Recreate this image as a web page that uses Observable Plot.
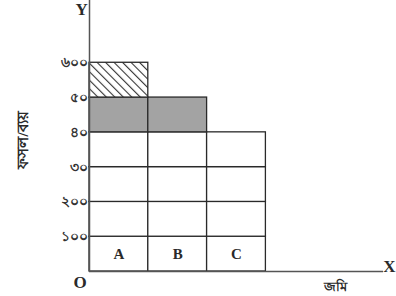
<!DOCTYPE html>
<html><head><meta charset="utf-8">
<script src="https://cdn.jsdelivr.net/npm/d3@7"></script>
<script src="https://cdn.jsdelivr.net/npm/@observablehq/plot@0.6"></script>
<style>
html,body{margin:0;padding:0;background:#fff;}
#chart{width:396px;height:296px;overflow:hidden;}
</style>
</head><body><div id="chart"></div>
<script>
const lands = ["A", "B", "C"];
const produce = [6, 5, 4];
const yTicks = [1, 2, 3, 4, 5, 6];
const yTickLabels = ["১০০", "২০০", "৩০", "৪০", "৫০", "৬০০"];
const yLabel = "ফসল/ব্যয়";
const xLabel = "জমি";

const cells = lands.flatMap((land, i) => d3.range(produce[i]).map(j => ({
  land, i, j,
  kind: j >= produce[1] ? "hatch" : j >= produce[2] ? "gray" : "white"
})));
const landRows = lands.map((land, i) => ({land, i}));

const ink = "#2a2a2a";
const serif = "'Liberation Serif', 'DejaVu Serif', serif";

const cellOpts = (kind, fill) => ({
  filter: d => d.kind === kind,
  x1: d => d.i, x2: d => d.i + 1, y1: "j", y2: d => d.j + 1,
  fill, stroke: ink, strokeWidth: 1.3
});

const chart = Plot.plot({
  width: 396, height: 296,
  marginLeft: 89, marginRight: 13, marginTop: 0, marginBottom: 25,
  style: {fontFamily: serif, fontSize: "14px", fontWeight: "bold", color: "#333", background: "#fff"},
  x: {domain: [0, 5], axis: null},
  y: {domain: [0, 7.79], ticks: yTicks, tickFormat: d => yTickLabels[yTicks.indexOf(d)], tickSize: 0, tickPadding: 2, label: null},
  marks: [
    Plot.rect(cells, cellOpts("white", "#fff")),
    Plot.rect(cells, cellOpts("gray", "#a3a3a3")),
    Plot.rect(cells, cellOpts("hatch", "url(#hatch)")),
    Plot.text(landRows, {x: d => d.i + 0.5, y: 0.5, text: "land", fontSize: 15, fontWeight: "bold", fill: ink, fontFamily: serif}),
    Plot.ruleX([0], {stroke: "#555", strokeWidth: 1.5}),
    Plot.ruleY([0], {stroke: "#555", strokeWidth: 1.5}),
    Plot.text(["O"], {frameAnchor: "bottom-left", dx: -16, dy: 16, fontSize: 17, fontWeight: "bold", fill: ink, fontFamily: serif}),
    Plot.text(["X"], {frameAnchor: "bottom-right", dx: 12, dy: 0, fontSize: 17, fill: ink, fontFamily: serif}),
    Plot.text(["Y"], {frameAnchor: "top-left", dx: -14, dy: 2, fontSize: 17, fill: ink, fontFamily: serif}),
    Plot.text([xLabel], {frameAnchor: "bottom-right", dx: -37, dy: 19, fontSize: 13, fill: ink}),
    Plot.text([yLabel], {frameAnchor: "left", textAnchor: "middle", dx: -66, dy: 4, rotate: -90, fontSize: 15, fill: ink})
  ]
});

const defs = d3.create("svg:defs");
const pat = defs.append("pattern").attr("id", "hatch").attr("patternUnits", "userSpaceOnUse")
  .attr("width", 6).attr("height", 6).attr("patternTransform", "rotate(-45)");
pat.append("rect").attr("width", 6).attr("height", 6).attr("fill", "#fff");
pat.append("line").attr("x1", 0).attr("y1", 0).attr("x2", 0).attr("y2", 6).attr("stroke", "#333").attr("stroke-width", 2.2);
chart.insertBefore(defs.node(), chart.firstChild);

document.getElementById("chart").appendChild(chart);
</script>
</body></html>
